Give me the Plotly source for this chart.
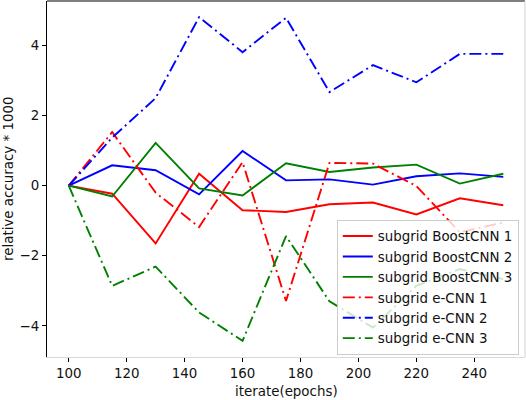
import plotly.graph_objects as go

epochs = [100, 115, 130, 145, 160, 175, 190, 205, 220, 235, 250]
boost1 = [0, -0.23, -1.65, 0.34, -0.70, -0.75, -0.53, -0.48, -0.82, -0.36, -0.56]
boost2 = [0, 0.58, 0.44, -0.25, 0.99, 0.15, 0.18, 0.03, 0.27, 0.35, 0.25]
boost3 = [0, -0.31, 1.22, -0.08, -0.28, 0.64, 0.39, 0.52, 0.60, 0.06, 0.34]
ecnn1 = [0, 1.53, -0.20, -1.18, 0.67, -3.29, 0.65, 0.63, -0.01, -1.33, -1.05]
ecnn2 = [0, 1.37, 2.50, 4.81, 3.81, 4.79, 2.67, 3.44, 2.95, 3.76, 3.76]
ecnn3 = [0, -2.86, -2.31, -3.62, -4.43, -1.44, -3.30, -4.05, -2.86, -2.38, -2.67]

names = ["subgrid BoostCNN 1", "subgrid BoostCNN 2", "subgrid BoostCNN 3",
         "subgrid e-CNN 1", "subgrid e-CNN 2", "subgrid e-CNN 3"]
series = [boost1, boost2, boost3, ecnn1, ecnn2, ecnn3]
colors = ["#ff0000", "#0000ff", "#008000", "#ff0000", "#0000ff", "#008000"]
dashes = ["solid", "solid", "solid", "12px,4px,2px,4px", "12px,4px,2px,4px", "12px,4px,2px,4px"]

xticks = [100, 120, 140, 160, 180, 200, 220, 240]
yticks = [-4, -2, 0, 2, 4]

FONT = "DejaVu Sans"
FS = 13.4
TXT = "#111111"

fig = go.Figure()
for n, s, c, d in zip(names, series, colors, dashes):
    fig.add_trace(go.Scatter(x=epochs, y=s, mode="lines", name=n,
                             line=dict(color=c, width=1.9, dash=d)))

fig.update_layout(
    width=526, height=400,
    margin=dict(l=47, r=1, t=1, b=42.5),
    paper_bgcolor="white", plot_bgcolor="white",
    font=dict(family=FONT, size=FS, color=TXT),
    showlegend=True,
    legend=dict(x=0.987, y=0.006, xanchor="right", yanchor="bottom",
                bgcolor="rgba(255,255,255,0.8)", bordercolor="#cccccc",
                borderwidth=1, font=dict(family=FONT, size=FS, color=TXT),
                itemwidth=30, tracegroupgap=0),
    xaxis=dict(range=[92.5, 257.5], tickvals=xticks, showgrid=False, zeroline=False,
               showline=True, linecolor="#d9d9d9", linewidth=1.2,
               ticks="outside", ticklen=4, tickcolor="black", tickwidth=1),
    yaxis=dict(range=[-4.89, 5.27], tickvals=yticks, showgrid=False, zeroline=False,
               showline=True, linecolor="black", linewidth=1,
               ticks="outside", ticklen=4, tickcolor="black", tickwidth=1),
    shapes=[
        dict(type="line", xref="paper", yref="paper", x0=0, x1=1, y0=1, y1=1,
             line=dict(color="black", width=1.2)),
        dict(type="line", xref="paper", yref="paper", x0=1, x1=1, y0=0, y1=1,
             line=dict(color="#d9d9d9", width=1.2)),
    ],
    annotations=[
        dict(text="iterate(epochs)", xref="paper", yref="paper", x=0.5, y=0,
             xanchor="center", yanchor="middle", yshift=-34, showarrow=False,
             font=dict(family=FONT, size=FS, color=TXT)),
        dict(text="relative accuracy * 1000", xref="paper", yref="paper", x=0, y=0.5,
             xanchor="center", yanchor="middle", xshift=-39, textangle=-90,
             showarrow=False, font=dict(family=FONT, size=FS, color=TXT)),
    ],
)

fig.write_html("out.html", config={"displayModeBar": False},
               post_script="document.body.style.margin='0';document.body.style.overflow='hidden';")
